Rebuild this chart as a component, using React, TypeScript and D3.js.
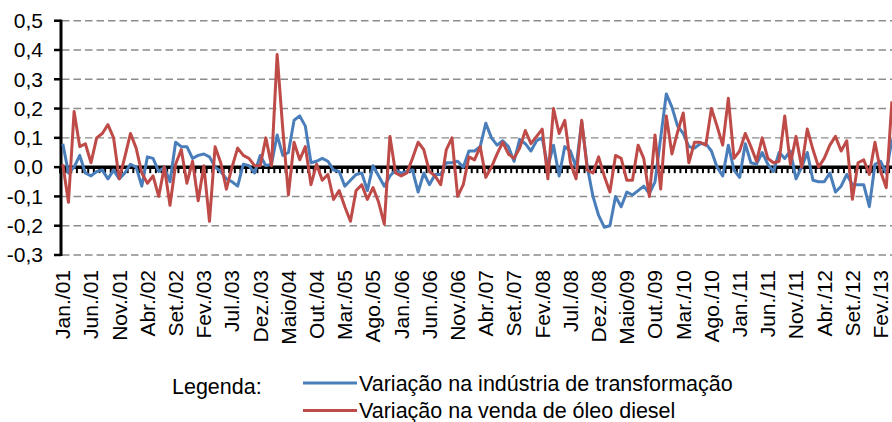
import React, { useRef, useEffect } from 'react';
import * as d3 from 'd3';

// month names used in the category labels
const monthAbbr = ['Jan.', 'Fev.', 'Mar.', 'Abr.', 'Maio', 'Jun.', 'Jul.', 'Ago.', 'Set.', 'Out.', 'Nov.', 'Dez.'];
const firstYear = 2001;
const monthCount = 148; // Jan./01 .. Abr./13

const categories = d3.range(monthCount).map(
  (i) => `${monthAbbr[i % 12]}/${String((firstYear + Math.floor(i / 12)) % 100).padStart(2, '0')}`
);

// every fifth month carries a label
const tickLabels = [
  'Jan./01', 'Jun./01', 'Nov./01', 'Abr./02', 'Set./02', 'Fev./03', 'Jul./03', 'Dez./03',
  'Maio/04', 'Out./04', 'Mar./05', 'Ago./05', 'Jan./06', 'Jun./06', 'Nov./06', 'Abr./07',
  'Set./07', 'Fev./08', 'Jul./08', 'Dez./08', 'Maio/09', 'Out./09', 'Mar./10', 'Ago./10',
  'Jan./11', 'Jun./11', 'Nov./11', 'Abr./12', 'Set./12', 'Fev./13',
];

const yTicks = [-0.3, -0.2, -0.1, 0, 0.1, 0.2, 0.3, 0.4, 0.5];

// Variação na indústria de transformação
const industria = [
  0.08, -0.02, 0.0, 0.04, -0.02, -0.03, -0.015, -0.01, -0.04, -0.01,
  -0.04, -0.02, 0.01, 0.0, -0.065, 0.035, 0.03, -0.015, 0.0, -0.05,
  0.085, 0.07, 0.07, 0.03, 0.04, 0.045, 0.035, 0.0, -0.015, -0.04,
  -0.05, -0.065, 0.01, 0.005, -0.02, 0.04, 0.005, 0.01, 0.11, 0.04,
  0.05, 0.16, 0.175, 0.14, 0.015, 0.02, 0.03, 0.02, -0.01, -0.015,
  -0.065, -0.045, -0.025, -0.02, -0.08, 0.005, -0.03, -0.065, -0.03, -0.01,
  -0.02, -0.015, -0.01, -0.085, -0.02, -0.06, -0.025, -0.025, 0.015, 0.015,
  0.02, 0.0, 0.055, 0.055, 0.07, 0.15, 0.1, 0.075, 0.09, 0.07,
  0.02, 0.095, 0.08, 0.055, 0.09, 0.1, 0.0, 0.075, -0.03, 0.07,
  0.055, 0.0, 0.155, 0.0, -0.1, -0.165, -0.205, -0.2, -0.1, -0.135,
  -0.085, -0.095, -0.08, -0.065, -0.09, -0.05, 0.1, 0.25, 0.205, 0.14,
  0.115, 0.07, 0.065, 0.08, 0.08, 0.055, 0.0, -0.03, 0.075, -0.01,
  -0.035, 0.08, 0.015, 0.01, 0.05, 0.01, -0.015, 0.05, 0.03, 0.055,
  -0.04, 0.0, 0.05, -0.045, -0.05, -0.05, -0.02, -0.085, -0.065, -0.025,
  -0.06, -0.06, -0.06, -0.135, 0.01, 0.02, -0.02, 0.095,
];

// Variação na venda de óleo diesel
const diesel = [
  0.01, -0.12, 0.19, 0.07, 0.08, 0.015, 0.1, 0.115, 0.145, 0.1,
  -0.04, 0.035, 0.115, 0.065, -0.02, -0.055, -0.03, -0.1, 0.0, -0.13,
  0.01, 0.06, -0.055, 0.02, -0.115, 0.005, -0.185, 0.07, 0.015, -0.075,
  0.0, 0.065, 0.04, 0.03, 0.005, 0.005, 0.1, 0.005, 0.385, 0.13,
  -0.095, 0.085, 0.025, 0.07, -0.06, 0.01, -0.045, -0.025, -0.11, -0.08,
  -0.135, -0.185, -0.08, -0.06, -0.11, -0.07, -0.12, -0.195, 0.105, -0.02,
  -0.03, -0.02, 0.03, 0.085, 0.06, -0.015, -0.03, -0.06, 0.06, 0.1,
  -0.1, -0.06, 0.035, 0.025, 0.07, -0.035, 0.0, 0.045, 0.085, 0.045,
  0.03, 0.065, 0.125, 0.08, 0.105, 0.13, -0.04, 0.2, 0.115, 0.16,
  0.015, -0.04, 0.16, -0.01, -0.02, 0.035, -0.03, -0.085, 0.04, 0.03,
  -0.045, -0.045, 0.075, 0.03, -0.1, 0.11, -0.075, 0.175, 0.045, 0.12,
  0.185, 0.015, 0.085, 0.085, 0.075, 0.2, 0.14, 0.075, 0.235, 0.03,
  0.055, 0.115, 0.07, 0.02, 0.1, 0.03, 0.015, 0.02, 0.175, 0.01,
  0.105, 0.0, 0.13, 0.06, 0.0, 0.03, 0.075, 0.105, 0.055, 0.09,
  -0.11, 0.015, 0.025, -0.025, 0.085, -0.015, -0.07, 0.225,
];

const series = [
  { name: 'Variação na indústria de transformação', values: industria, color: '#4a7ebb' },
  { name: 'Variação na venda de óleo diesel', values: diesel, color: '#be4b48' },
];

const FONT = '"Liberation Sans", Arial, sans-serif';

const App: React.FC = () => {
  const svgRef = useRef<SVGSVGElement>(null);
  const width = 892;
  const height = 422;

  useEffect(() => {
    if (!svgRef.current) return;
    const svg = d3.select(svgRef.current);
    svg.selectAll('*').remove();

    const axisX = 61;
    const x = d3.scaleBand<string>().domain(categories).range([60, 60 + 5.64 * monthCount]).paddingInner(0);
    const y = d3.scaleLinear().domain([-0.3, 0.5]).range([255, 20.7]);
    const cx = (c: string) => (x(c) as number) + x.bandwidth() / 2;

    // dashed gridlines
    svg.append('g')
      .selectAll('line')
      .data(yTicks.filter((t) => t !== 0))
      .enter()
      .append('line')
      .attr('x1', axisX + 1)
      .attr('x2', width)
      .attr('y1', (d) => y(d))
      .attr('y2', (d) => y(d))
      .attr('stroke', '#8c8c8c')
      .attr('stroke-width', 1.4)
      .attr('stroke-dasharray', '7.5,4');

    // y axis line + ticks
    svg.append('line')
      .attr('x1', axisX).attr('x2', axisX)
      .attr('y1', y(0.5) - 1).attr('y2', y(-0.3) + 1)
      .attr('stroke', '#000').attr('stroke-width', 3);

    svg.append('g')
      .selectAll('line')
      .data(yTicks)
      .enter()
      .append('line')
      .attr('x1', axisX - 7)
      .attr('x2', axisX)
      .attr('y1', (d) => y(d))
      .attr('y2', (d) => y(d))
      .attr('stroke', '#000')
      .attr('stroke-width', 2.5);

    svg.append('g')
      .selectAll('text')
      .data(yTicks)
      .enter()
      .append('text')
      .attr('x', 43)
      .attr('y', (d) => y(d))
      .attr('dy', '0.35em')
      .attr('text-anchor', 'end')
      .style('font-family', FONT)
      .style('font-size', '21px')
      .text((d) => d3.format('.1f')(d).replace('.', ',').replace('−', '-'));

    const line = d3.line<number>()
      .x((_, i) => cx(categories[i]))
      .y((d) => y(d));

    // x axis at zero with month ticks below
    const zeroY = y(0);
    svg.append('g')
      .selectAll('line')
      .data(d3.range(monthCount + 1))
      .enter()
      .append('line')
      .attr('x1', (i) => 60 + x.step() * i)
      .attr('x2', (i) => 60 + x.step() * i)
      .attr('y1', zeroY)
      .attr('y2', zeroY + 6)
      .attr('stroke', '#000')
      .attr('stroke-width', 2);

    svg.append('line')
      .attr('x1', axisX).attr('x2', width)
      .attr('y1', zeroY).attr('y2', zeroY)
      .attr('stroke', '#000').attr('stroke-width', 3.5);

    series.forEach((s) => {
      svg.append('path')
        .datum(s.values)
        .attr('d', line)
        .attr('fill', 'none')
        .attr('stroke', s.color)
        .attr('stroke-width', 3)
        .attr('stroke-linejoin', 'round');
    });

    // rotated category labels
    svg.append('g')
      .selectAll('text')
      .data(tickLabels)
      .enter()
      .append('text')
      .attr('transform', (d) => `translate(${cx(d)},270) rotate(-90)`)
      .attr('dy', '0.35em')
      .attr('text-anchor', 'end')
      .style('font-family', FONT)
      .style('font-size', '21px')
      .text((d) => d);

    // legend
    const legend = svg.append('g').style('font-family', FONT).style('font-size', '21.5px');
    legend.append('text').attr('x', 172).attr('y', 394).text('Legenda:');
    series.forEach((s, i) => {
      const ly = 383 + i * 27.5;
      legend.append('line')
        .attr('x1', 303).attr('x2', 357)
        .attr('y1', ly).attr('y2', ly)
        .attr('stroke', s.color).attr('stroke-width', 3);
      legend.append('text')
        .attr('x', 359)
        .attr('y', ly + 7.5)
        .text(s.name);
    });
  }, []);

  return (
    <svg
      ref={svgRef}
      width={width}
      height={height}
      style={{ position: 'absolute', left: 0, top: 0, background: '#fff' }}
    />
  );
};

export default App;
